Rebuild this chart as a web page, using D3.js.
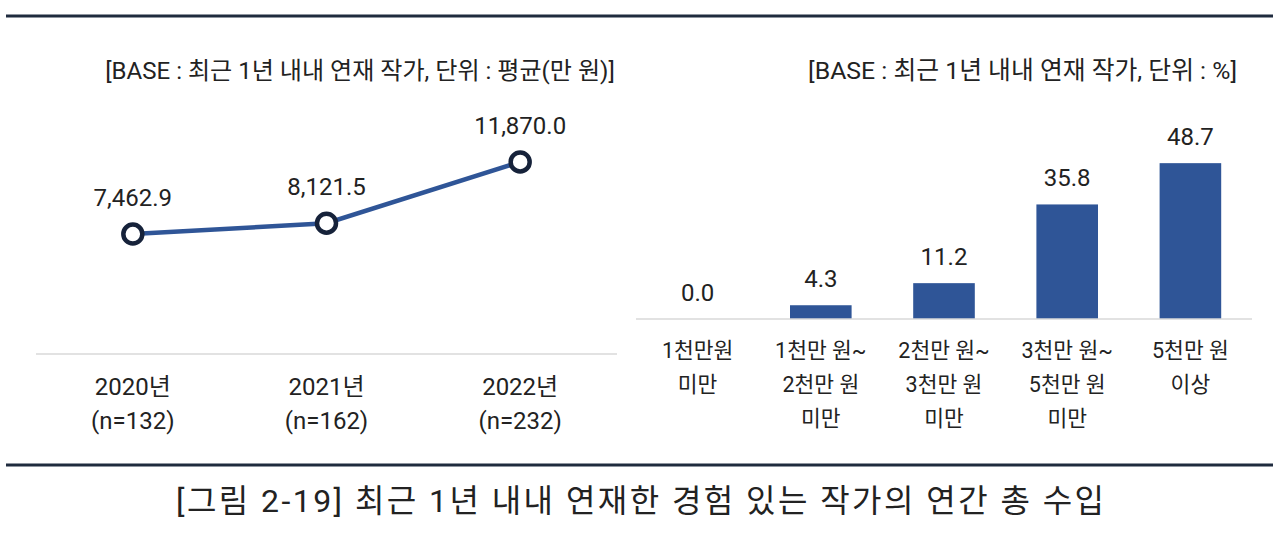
<!DOCTYPE html>
<html>
<head>
<meta charset="utf-8">
<script src="https://cdn.jsdelivr.net/npm/d3@7"></script>
<style>
  html, body { margin: 0; padding: 0; background: #fff; }
  svg text { font-family: Roboto, "Noto Sans CJK KR", sans-serif; fill: #222; }
</style>
</head>
<body>
<svg id="chart" width="1280" height="537"></svg>
<script>
// ---- data ----
const years = ["2020년", "2021년", "2022년"];
const yearN = ["(n=132)", "(n=162)", "(n=232)"];
const incomeAvg = [7462.9, 8121.5, 11870.0];
const incomeLabels = ["7,462.9", "8,121.5", "11,870.0"];

const bands = [["1천만원", "미만"], ["1천만 원~", "2천만 원", "미만"], ["2천만 원~", "3천만 원", "미만"], ["3천만 원~", "5천만 원", "미만"], ["5천만 원", "이상"]];
const bandKeys = ["b1", "b2", "b3", "b4", "b5"];
const bandPct = [0.0, 4.3, 11.2, 35.8, 48.7];

const leftSubtitle = "[BASE : 최근 1년 내내 연재 작가, 단위 : 평균(만 원)]";
const rightSubtitle = "[BASE : 최근 1년 내내 연재 작가, 단위 : %]";
const caption = "[그림 2-19] 최근 1년 내내 연재한 경험 있는 작가의 연간 총 수입";

const svg = d3.select("#chart");
const navy = "#1f2b3e";
const blue = "#2f5597";

// fit text to a target width by adjusting font size
function fitText(sel, targetW) {
  const w = sel.node().getComputedTextLength();
  const fs = parseFloat(sel.attr("font-size"));
  sel.attr("font-size", fs * targetW / w);
}

// frame rules
svg.append("line").attr("x1", 6).attr("x2", 1273).attr("y1", 16).attr("y2", 16)
  .attr("stroke", navy).attr("stroke-width", 3);
svg.append("line").attr("x1", 6).attr("x2", 1273).attr("y1", 465).attr("y2", 465)
  .attr("stroke", navy).attr("stroke-width", 3);

// ---- left: line chart ----
const xL = d3.scalePoint().domain(years).range([36, 617]).padding(0.5);
const yL = d3.scaleLinear().domain([0, 13000]).range([356, 143.5]);

const ls = svg.append("text").attr("x", 360).attr("y", 79).attr("text-anchor", "middle")
  .attr("font-size", 22).text(leftSubtitle);
fitText(ls, 510);

svg.append("line").attr("x1", 36).attr("x2", 617).attr("y1", 354).attr("y2", 354)
  .attr("stroke", "#d9d9d9").attr("stroke-width", 1.5);

const lineGen = d3.line().x((d, i) => xL(years[i])).y(d => yL(d));
svg.append("path").datum(incomeAvg).attr("d", lineGen)
  .attr("fill", "none").attr("stroke", blue).attr("stroke-width", 4.5);

svg.selectAll(".pt").data(incomeAvg).enter().append("circle")
  .attr("cx", (d, i) => xL(years[i])).attr("cy", d => yL(d)).attr("r", 9.5)
  .attr("fill", "#fff").attr("stroke", "#16223a").attr("stroke-width", 4.5);

svg.selectAll(".vl").data(incomeAvg).enter().append("text")
  .attr("x", (d, i) => xL(years[i])).attr("y", d => yL(d) - 28)
  .attr("text-anchor", "middle").attr("font-size", 24).text((d, i) => incomeLabels[i]);

years.forEach((yr, i) => {
  svg.append("text").attr("x", xL(yr)).attr("y", 395).attr("text-anchor", "middle")
    .attr("font-size", 24).text(yr);
  svg.append("text").attr("x", xL(yr)).attr("y", 429).attr("text-anchor", "middle")
    .attr("font-size", 24).text(yearN[i]);
});

// ---- right: bar chart ----
const xR = d3.scaleBand().domain(bandKeys).range([636, 1252]).paddingInner(0.5).paddingOuter(0.25);
const yR = d3.scaleLinear().domain([0, 50]).range([319, 159]);

const rs = svg.append("text").attr("x", 1237).attr("y", 79).attr("text-anchor", "end")
  .attr("font-size", 22).text(rightSubtitle);
fitText(rs, 429);

svg.selectAll(".bar").data(bandPct).enter().append("rect")
  .attr("x", (d, i) => xR(bandKeys[i])).attr("width", xR.bandwidth())
  .attr("y", d => yR(d)).attr("height", d => yR(0) - yR(d))
  .attr("fill", blue);

svg.append("line").attr("x1", 636).attr("x2", 1252).attr("y1", 319).attr("y2", 319)
  .attr("stroke", "#d9d9d9").attr("stroke-width", 1.5);

svg.selectAll(".bl").data(bandPct).enter().append("text")
  .attr("x", (d, i) => xR(bandKeys[i]) + xR.bandwidth() / 2).attr("y", d => yR(d) - 18)
  .attr("text-anchor", "middle").attr("font-size", 24).text(d => d.toFixed(1));

bands.forEach((lines, i) => {
  const cx = xR(bandKeys[i]) + xR.bandwidth() / 2;
  lines.forEach((ln, j) => {
    svg.append("text").attr("x", cx).attr("y", 358 + j * 34).attr("text-anchor", "middle")
      .attr("font-size", 21.5).text(ln);
  });
});

// caption
const cap = svg.append("text").attr("x", 640).attr("y", 512).attr("text-anchor", "middle")
  .attr("font-size", 32).attr("fill", "#111").text(caption);
cap.attr("textLength", 928).attr("lengthAdjust", "spacing");
</script>
</body>
</html>
